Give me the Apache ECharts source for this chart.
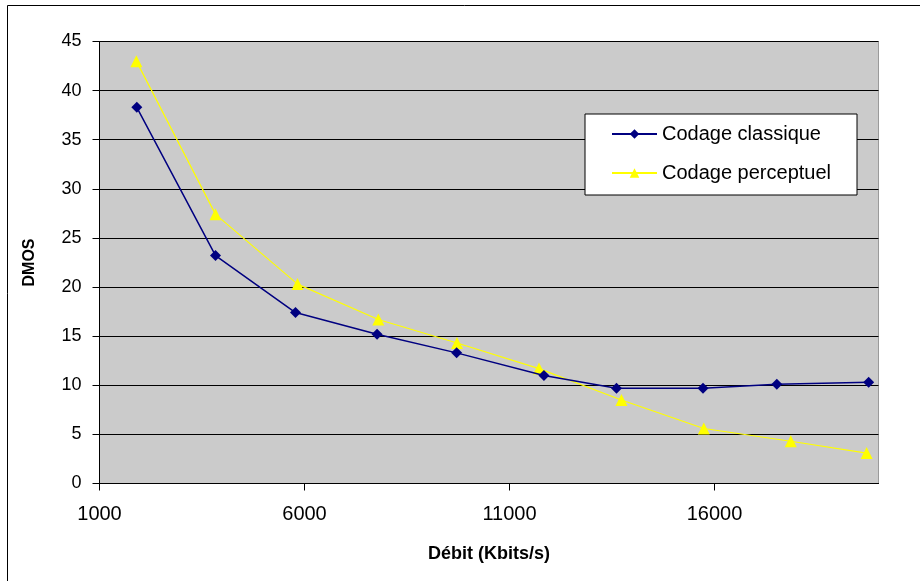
<!DOCTYPE html>
<html>
<head>
<meta charset="utf-8">
<title>DMOS en fonction du débit</title>
<script src="https://cdn.jsdelivr.net/npm/echarts@6/dist/echarts.min.js"></script>
<style>
  html, body { margin: 0; padding: 0; background: #ffffff; }
  #chart { width: 920px; height: 581px; }
</style>
</head>
<body>
<div id="chart"></div>
<script>
// Débit (Kbits/s) and DMOS for each coding scheme
var seriesNames = ['Codage classique', 'Codage perceptuel'];
var classiqueX = [1910, 3830, 5780, 7770, 9710, 11840, 13610, 15720, 17520, 19760];
var classiqueY = [38.3, 23.2, 17.4, 15.2, 13.3, 11.0, 9.7, 9.7, 10.1, 10.3];
var perceptuelX = [1900, 3830, 5830, 7800, 9720, 11720, 13730, 15740, 17860, 19710];
var perceptuelY = [43.0, 27.4, 20.3, 16.7, 14.3, 11.7, 8.5, 5.6, 4.3, 3.1];
var xTicks = [1000, 6000, 11000, 16000];
var yTicks = [0, 5, 10, 15, 20, 25, 30, 35, 40, 45];

function pairs(xs, ys) {
  return xs.map(function (x, i) { return [x, ys[i]]; });
}

var FONT = '"Liberation Sans", Arial, sans-serif';
var chart = echarts.init(document.getElementById('chart'), null, { renderer: 'canvas' });

chart.setOption({
  animation: false,
  backgroundColor: '#ffffff',
  textStyle: { fontFamily: FONT },
  graphic: [{
    type: 'rect',
    silent: true,
    shape: { x: 7.5, y: 5.5, width: 1000, height: 1000 },
    style: { fill: 'none', stroke: '#000000', lineWidth: 1 }
  }],
  grid: {
    left: 99.5, right: 41.5, top: 41.5, bottom: 97.5,
    show: true, backgroundColor: '#cbcbcb', borderColor: '#9a9a9a', borderWidth: 1
  },
  legend: {
    orient: 'vertical',
    left: 585, top: 114,
    padding: [10, 26, 12, 26],
    backgroundColor: '#ffffff',
    borderColor: '#000000', borderWidth: 1,
    itemWidth: 45, itemHeight: 12, itemGap: 19,
    textStyle: { fontFamily: FONT, fontSize: 20, color: '#000000' },
    data: seriesNames
  },
  xAxis: {
    type: 'value',
    min: 1000, max: 20000, interval: 5000,
    name: 'Débit (Kbits/s)',
    nameLocation: 'middle', nameGap: 62,
    nameTextStyle: { fontFamily: FONT, fontSize: 18, fontWeight: 'bold', color: '#000000' },
    axisLine: { show: true, onZero: false, lineStyle: { color: '#000000', width: 1 } },
    axisTick: { show: true, length: 7, inside: false, customValues: xTicks, lineStyle: { color: '#000000' } },
    axisLabel: {
      customValues: xTicks, margin: 21, fontFamily: FONT, fontSize: 20, color: '#000000',
      formatter: function (v) { return String(v); }
    },
    splitLine: { show: false }
  },
  yAxis: {
    type: 'value',
    min: 0, max: 45, interval: 5,
    name: 'DMOS',
    nameLocation: 'middle', nameGap: 62, nameRotate: 90,
    nameTextStyle: { fontFamily: FONT, fontSize: 16, fontWeight: 'bold', color: '#000000' },
    axisLine: { show: true, lineStyle: { color: '#000000', width: 1 } },
    axisTick: { show: true, length: 7, customValues: yTicks, lineStyle: { color: '#000000' } },
    axisLabel: { customValues: yTicks, margin: 18, fontFamily: FONT, fontSize: 18, color: '#000000' },
    splitLine: { show: true, lineStyle: { color: '#000000', width: 1 } }
  },
  series: [{
    name: seriesNames[0],
    type: 'line',
    data: pairs(classiqueX, classiqueY),
    color: '#000080',
    symbol: 'diamond', symbolSize: 11,
    lineStyle: { color: '#000080', width: 1.5 },
    itemStyle: { color: '#000080' },
    z: 3
  }, {
    name: seriesNames[1],
    type: 'line',
    data: pairs(perceptuelX, perceptuelY),
    color: '#ffff00',
    symbol: 'triangle', symbolSize: 12,
    lineStyle: { color: '#ffff00', width: 1.2 },
    itemStyle: { color: '#ffff00' },
    z: 2
  }]
});
</script>
</body>
</html>
